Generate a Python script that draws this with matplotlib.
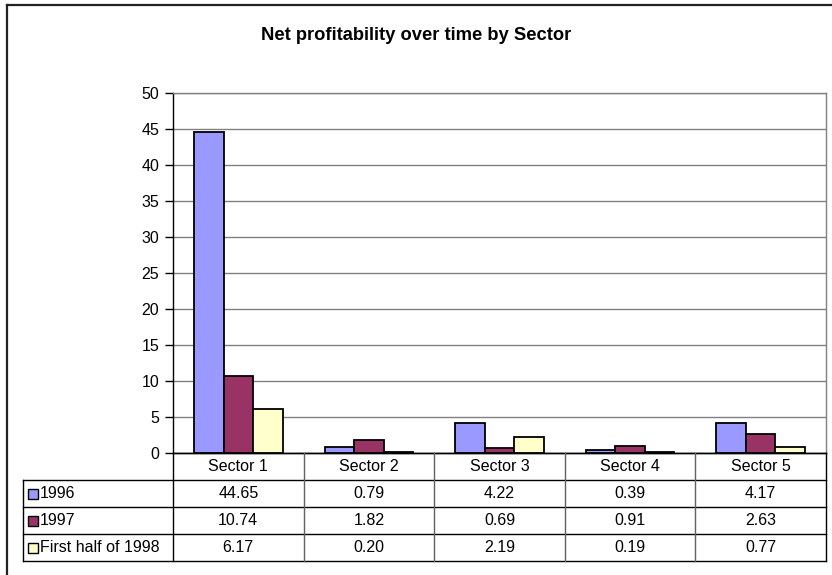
import matplotlib
matplotlib.use("Agg")
import matplotlib.pyplot as plt
from matplotlib.lines import Line2D
import numpy as np

plt.rcParams['font.family'] = ['Liberation Sans', 'DejaVu Sans']

categories = ["Sector 1", "Sector 2", "Sector 3", "Sector 4", "Sector 5"]
series_names = ["1996", "1997", "First half of 1998"]
v1996 = [44.65, 0.79, 4.22, 0.39, 4.17]
v1997 = [10.74, 1.82, 0.69, 0.91, 2.63]
v1998 = [6.17, 0.20, 2.19, 0.19, 0.77]
series_values = [v1996, v1997, v1998]
colors = ["#9999FF", "#993366", "#FFFFCC"]
yticks = [0, 5, 10, 15, 20, 25, 30, 35, 40, 45, 50]
title = "Net profitability over time by Sector"

W, H = 832, 575
fig = plt.figure(figsize=(W / 100, H / 100), dpi=100)

def fx(px):
    return px / W

def fy(py):
    return 1 - py / H

FS = 11.5

# outer frame (top and left edges visible)
fig.lines.append(Line2D([fx(7), 1.0], [fy(4.5), fy(4.5)], transform=fig.transFigure,
                        color="#222222", lw=1.6))
fig.lines.append(Line2D([fx(7), fx(7)], [fy(4.5), 0.0], transform=fig.transFigure,
                        color="#222222", lw=1.6))

L, R, T, B = 173, 826, 93, 453
ax = fig.add_axes([fx(L), fy(B), fx(R - L), (B - T) / H])
n = len(categories)
x = np.arange(n)
bw = 0.226
for i, (vals, c) in enumerate(zip(series_values, colors)):
    ax.bar(x + (i - 1) * bw, vals, width=bw, color=c, edgecolor="black", lw=1.3, zorder=3)
ax.set_xlim(-0.5, n - 0.5)
ax.set_ylim(0, 50)
ax.set_yticks(yticks)
ax.set_yticklabels([str(t) for t in yticks], fontsize=FS)
ax.set_xticks([])
ax.yaxis.grid(True, color="#808080", lw=1, zorder=0)
ax.set_axisbelow(True)
ax.tick_params(axis="y", length=6, width=1, color="black", pad=4)
ax.spines["left"].set_color("black")
ax.spines["bottom"].set_color("black")
ax.spines["top"].set_color("#808080")
ax.spines["right"].set_color("#808080")
for s in ax.spines.values():
    s.set_linewidth(1)

# table
TL, TB = 23, 561
unit = (R - L) / n
tax = fig.add_axes([fx(TL), fy(TB), fx(R - TL), (TB - B) / H])
left_units = (L - TL) / unit
tax.set_xlim(-0.5 - left_units, n - 0.5)
tax.set_ylim(4, 0)
tax.axis("off")
x0 = -0.5 - left_units
tax.plot([-0.5, n - 0.5], [0, 0], color="black", lw=1, clip_on=False)
for r in range(1, 5):
    tax.plot([x0, n - 0.5], [r, r], color="black", lw=1, clip_on=False)
tax.plot([x0, x0], [1, 4], color="black", lw=1, clip_on=False)
for k in range(n + 1):
    tax.plot([k - 0.5, k - 0.5], [0, 4], color="#606060" if 0 < k < n else "black", lw=1, clip_on=False)
for k, c in enumerate(categories):
    tax.text(k, 0.5, c, ha="center", va="center", fontsize=FS)
for r, (name, vals, col) in enumerate(zip(series_names, series_values, colors)):
    yc = r + 1.5
    tax.plot([x0 + 0.075], [yc], marker="s", markersize=7, markerfacecolor=col,
             markeredgecolor="black", markeredgewidth=1, clip_on=False)
    tax.text(x0 + 0.13, yc, name, ha="left", va="center", fontsize=FS)
    for k, v in enumerate(vals):
        tax.text(k, yc, f"{v:.2f}", ha="center", va="center", fontsize=FS)

fig.text(0.5, fy(36), title, ha="center", va="center", fontsize=13.2, fontweight="bold")

fig.savefig("out.png", dpi=100)
